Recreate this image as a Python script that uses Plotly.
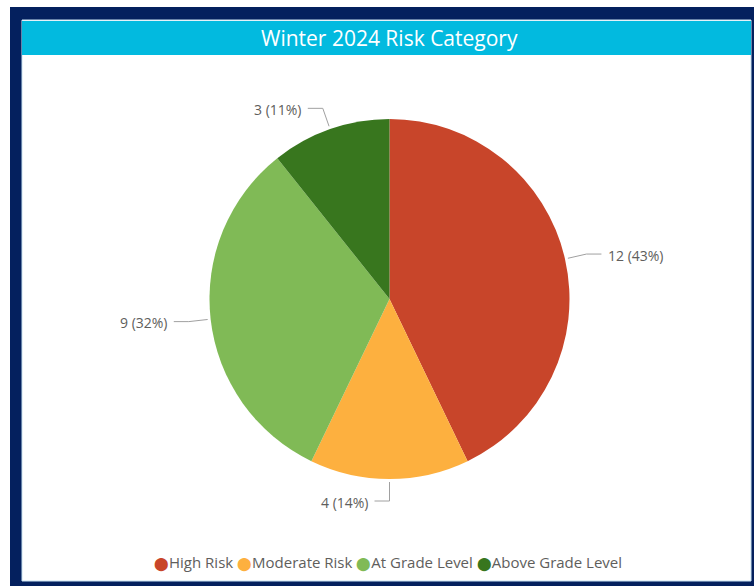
import math
import plotly.graph_objects as go

categories = ["High Risk", "Moderate Risk", "At Grade Level", "Above Grade Level"]
counts = [12, 4, 9, 3]
colors = ["#C8452A", "#FDB03F", "#80BA56", "#38761E"]
title_text = "Winter 2024 Risk Category"

W, H = 754, 586
CX, CY, R = 389.5, 299.0, 180.0
FONT = "Segoe UI, Open Sans, sans-serif"


def px(x):
    return x / W


def py(y):
    return 1 - y / H


fig = go.Figure(go.Pie(
    labels=categories,
    values=counts,
    marker=dict(colors=colors, line=dict(width=0)),
    sort=False,
    direction="clockwise",
    rotation=0,
    textinfo="none",
    hoverinfo="label+value+percent",
    showlegend=False,
    domain=dict(x=[px(CX - R), px(CX + R)], y=[py(CY + R), py(CY - R)]),
))

shapes = [
    dict(type="rect", xref="paper", yref="paper", x0=px(10), x1=px(754), y0=py(586), y1=py(7),
         fillcolor="#04205E", line=dict(width=0), layer="below"),
    dict(type="rect", xref="paper", yref="paper", x0=px(22), x1=px(751), y0=py(581), y1=py(20),
         fillcolor="white", line=dict(color="#C9E3F2", width=1), layer="below"),
    dict(type="rect", xref="paper", yref="paper", x0=px(22), x1=px(751), y0=py(55), y1=py(21),
         fillcolor="#02BADF", line=dict(width=0), layer="below"),
]
annotations = [
    dict(text=title_text, xref="paper", yref="paper", x=px(389.5), y=py(38),
         xanchor="center", yanchor="middle", showarrow=False,
         font=dict(family=FONT, size=21, color="white")),
]

total = sum(counts)
cum = 0
for v in counts:
    pct = round(100 * v / total)
    mid = (cum + v / 2) / total * 2 * math.pi
    cum += v
    sx, sy = math.sin(mid), -math.cos(mid)
    x0, y0 = CX + (R + 3) * sx, CY + (R + 3) * sy
    x1, y1 = CX + (R + 22) * sx, CY + (R + 22) * sy
    side = 1 if sx > 1e-6 else -1
    x2 = x1 + side * 15
    shapes.append(dict(type="path", xref="paper", yref="paper",
                       path=f"M {px(x0)} {py(y0)} L {px(x1)} {py(y1)} L {px(x2)} {py(y1)}",
                       line=dict(color="#A0A0A0", width=1)))
    annotations.append(dict(text=f"{v} ({pct}%)", xref="paper", yref="paper",
                            x=px(x2 + side * 5), y=py(y1 + 1),
                            xanchor="left" if side > 0 else "right", yanchor="middle",
                            showarrow=False, font=dict(family=FONT, size=14, color="#605E5C")))

legend_parts = []
for c, lab in zip(categories, colors):
    legend_parts.append(f'<span style="color:{lab};font-size:13px">⬤</span>{c}')
annotations.append(dict(text=" ".join(legend_parts), xref="paper", yref="paper",
                        x=px(388), y=py(562), xanchor="center", yanchor="middle",
                        showarrow=False, font=dict(family=FONT, size=15, color="#605E5C")))

fig.update_layout(
    width=W, height=H,
    margin=dict(l=0, r=0, t=0, b=0),
    paper_bgcolor="white", plot_bgcolor="white",
    shapes=shapes, annotations=annotations,
)
fig.write_html("out.html", config={"displayModeBar": False},
               post_script="document.body.style.margin='0';")
